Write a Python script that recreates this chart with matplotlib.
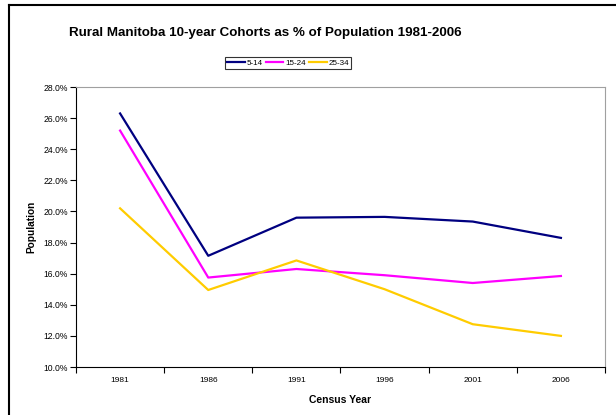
import matplotlib
matplotlib.use("Agg")
import matplotlib.pyplot as plt
from matplotlib.lines import Line2D
from matplotlib.ticker import FuncFormatter, FixedLocator

plt.rcParams['font.family'] = ['Liberation Sans', 'DejaVu Sans']

years = ["1981", "1986", "1991", "1996", "2001", "2006"]
age_5_14 = [26.3, 17.15, 19.6, 19.65, 19.35, 18.3]
age_15_24 = [25.2, 15.75, 16.3, 15.9, 15.4, 15.85]
age_25_34 = [20.2, 14.95, 16.85, 15.0, 12.75, 12.0]

W, H = 616, 415
fig = plt.figure(figsize=(W / 100, H / 100), dpi=100)

# outer chart border (left and top visible, rest clipped)
fig.add_artist(Line2D([9 / W, 9 / W], [0, 1 - 5 / H], color="black", lw=1.5))
fig.add_artist(Line2D([9 / W, 1], [1 - 5 / H, 1 - 5 / H], color="black", lw=1.5))

left, right, top, bottom = 76, 605, 87, 367
ax = fig.add_axes([left / W, 1 - bottom / H, (right - left) / W, (bottom - top) / H])

x = range(len(years))
ax.plot(x, age_5_14, color="#000080", lw=1.6, label="5-14")
ax.plot(x, age_15_24, color="#FF00FF", lw=1.6, label="15-24")
ax.plot(x, age_25_34, color="#FFCC00", lw=1.6, label="25-34")

ax.set_xlim(-0.5, len(years) - 0.5)
ax.set_ylim(10, 28)
ax.set_yticks([10 + 2 * i for i in range(10)])
ax.yaxis.set_major_formatter(FuncFormatter(lambda v, p: f"{v:.1f}%"))
ax.xaxis.set_major_locator(FixedLocator([i - 0.5 for i in range(len(years) + 1)]))
ax.xaxis.set_minor_locator(FixedLocator(list(x)))
ax.set_xticklabels([])
ax.set_xticklabels(years, minor=True)
ax.tick_params(axis="x", which="major", length=4, width=0.8, direction="out")
ax.tick_params(axis="x", which="minor", length=0, labelsize=6, pad=7)
ax.tick_params(axis="y", length=4, width=0.8, labelsize=6.2, pad=2)

ax.spines["left"].set_color("black")
ax.spines["bottom"].set_color("black")
ax.spines["top"].set_color("#a0a0a0")
ax.spines["right"].set_color("#a0a0a0")

ax.set_xlabel("Census Year", fontsize=7.5, fontweight="bold", labelpad=8)
ax.set_ylabel("Population", fontsize=7.3, fontweight="bold", labelpad=5)

fig.text(265 / W, 1 - 33 / H, "Rural Manitoba 10-year Cohorts as % of Population 1981-2006",
         ha="center", va="center", fontsize=9.6, fontweight="bold")

leg = fig.legend(loc="center", bbox_to_anchor=(288 / W, 1 - 63 / H), ncol=3, fontsize=5.8,
                 frameon=True, fancybox=False, edgecolor="black", handlelength=2.2,
                 handletextpad=0.2, columnspacing=0.4, borderpad=0.3, borderaxespad=0)
leg.get_frame().set_linewidth(0.8)

fig.savefig("out.png", dpi=100)
